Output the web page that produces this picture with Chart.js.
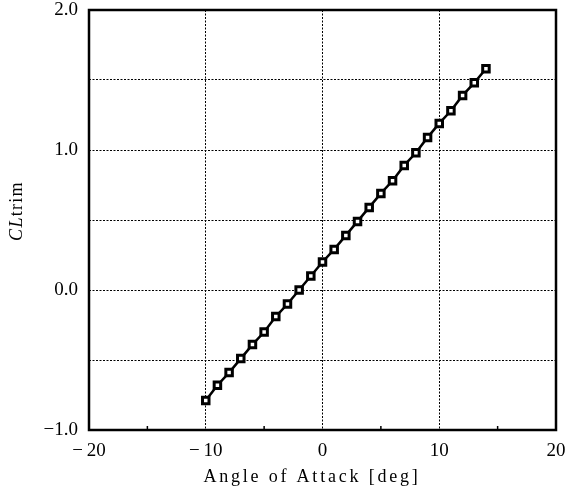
<!DOCTYPE html>
<html>
<head>
<meta charset="utf-8">
<script src="https://cdn.jsdelivr.net/npm/chart.js@4/dist/chart.umd.min.js"></script>
<style>
  body { margin: 0; background: #fff; }
  canvas { display: block; }
</style>
</head>
<body>
<canvas id="clChart" width="566" height="491"></canvas>
<script>
// angle of attack [deg] and trimmed lift coefficient
const alphaDeg = [-10, -9, -8, -7, -6, -5, -4, -3, -2, -1, 0, 1, 2, 3, 4, 5, 6, 7, 8, 9, 10, 11, 12, 13, 14];
const clTrim = [-0.79, -0.68, -0.59, -0.49, -0.39, -0.30, -0.19, -0.10, 0.00, 0.10, 0.20, 0.29, 0.39,
                0.49, 0.59, 0.69, 0.78, 0.89, 0.98, 1.09, 1.19, 1.28, 1.39, 1.48, 1.58];
const xTickLabels = [-20, -10, 0, 10, 20];
const yTickLabels = [-1, 0, 1, 2];
const xMinorTicks = [-15, -5, 5, 15];

const FONT = '"Liberation Serif", "DejaVu Serif", serif';

function fmtNum(v, digits) {
    const s = Math.abs(v).toFixed(digits);
    return v < 0 ? '\u2212' + (digits ? '' : '\u2009') + s : s;
}

// frame, small inner ticks and the axis titles
const framePlugin = {
    id: 'frame',
    afterDraw(chart) {
        const ctx = chart.ctx;
        const a = chart.chartArea;
        const xs = chart.scales.x;
        ctx.save();
        ctx.strokeStyle = '#000';
        ctx.lineWidth = 2.5;
        ctx.strokeRect(a.left, a.top, a.right - a.left, a.bottom - a.top);

        ctx.lineWidth = 1.5;
        xMinorTicks.forEach(v => {
            const px = xs.getPixelForValue(v);
            ctx.beginPath();
            ctx.moveTo(px, a.bottom);
            ctx.lineTo(px, a.bottom - 4);
            ctx.stroke();
        });

        ctx.fillStyle = '#000';
        ctx.textBaseline = 'middle';
        ctx.letterSpacing = '2.8px';
        ctx.font = '18px ' + FONT;
        ctx.textAlign = 'center';
        ctx.fillText('Angle of Attack [deg]', 312, 477);

        // y title: italic "CL" followed by upright "trim"
        ctx.translate(17, 211);
        ctx.rotate(-Math.PI / 2);
        ctx.letterSpacing = '1.3px';
        ctx.font = 'italic 18px ' + FONT;
        const w1 = ctx.measureText('CL').width;
        ctx.font = '18px ' + FONT;
        const w2 = ctx.measureText('trim').width;
        let x0 = -(w1 + w2) / 2;
        ctx.textAlign = 'left';
        ctx.font = 'italic 18px ' + FONT;
        ctx.fillText('CL', x0, 0);
        ctx.font = '18px ' + FONT;
        ctx.fillText('trim', x0 + w1, 0);
        ctx.restore();
    }
};

new Chart(document.getElementById('clChart'), {
    type: 'line',
    data: {
        labels: alphaDeg,
        datasets: [{
            data: alphaDeg.map((a, i) => ({ x: a, y: clTrim[i] })),
            borderColor: '#000',
            borderWidth: 2.5,
            pointStyle: 'rect',
            pointRadius: 4.6,
            pointBorderWidth: 3,
            pointBorderColor: '#000',
            pointBackgroundColor: '#fff',
            tension: 0
        }]
    },
    options: {
        responsive: false,
        animation: false,
        events: [],
        layout: { padding: { top: 10, right: 10, left: 0, bottom: 0 } },
        plugins: {
            legend: { display: false },
            tooltip: { enabled: false }
        },
        scales: {
            x: {
                type: 'linear',
                min: -20,
                max: 20,
                afterFit(scale) {
                    scale.height = 61;
                    scale.paddingLeft = 0;
                    scale.paddingRight = 0;
                },
                afterBuildTicks(scale) {
                    scale.ticks = xTickLabels.map(v => ({ value: v }));
                },
                border: { display: false, dash: [2, 1.5] },
                grid: {
                    drawTicks: false,
                    color: ctx => (ctx.tick && Math.abs(ctx.tick.value) < 20) ? '#000' : 'rgba(0,0,0,0)',
                    lineWidth: 1
                },
                ticks: {
                    padding: 10,
                    color: '#000',
                    font: { family: FONT, size: 19 },
                    maxRotation: 0,
                    callback: v => fmtNum(v, 0)
                }
            },
            y: {
                type: 'linear',
                min: -1,
                max: 2,
                afterFit(scale) {
                    scale.width = 89;
                    scale.paddingTop = 0;
                    scale.paddingBottom = 0;
                },
                afterBuildTicks(scale) {
                    const t = [];
                    for (let v = -1; v <= 2.001; v += 0.5) t.push({ value: Math.round(v * 10) / 10 });
                    scale.ticks = t;
                },
                border: { display: false, dash: [2, 1.5] },
                grid: {
                    drawTicks: false,
                    color: ctx => (ctx.tick && ctx.tick.value > -1 && ctx.tick.value < 2) ? '#000' : 'rgba(0,0,0,0)',
                    lineWidth: 1
                },
                ticks: {
                    padding: 11,
                    color: '#000',
                    font: { family: FONT, size: 19 },
                    callback: v => yTickLabels.includes(v) ? fmtNum(v, 1) : ''
                }
            }
        }
    },
    plugins: [framePlugin]
});
</script>
</body>
</html>
